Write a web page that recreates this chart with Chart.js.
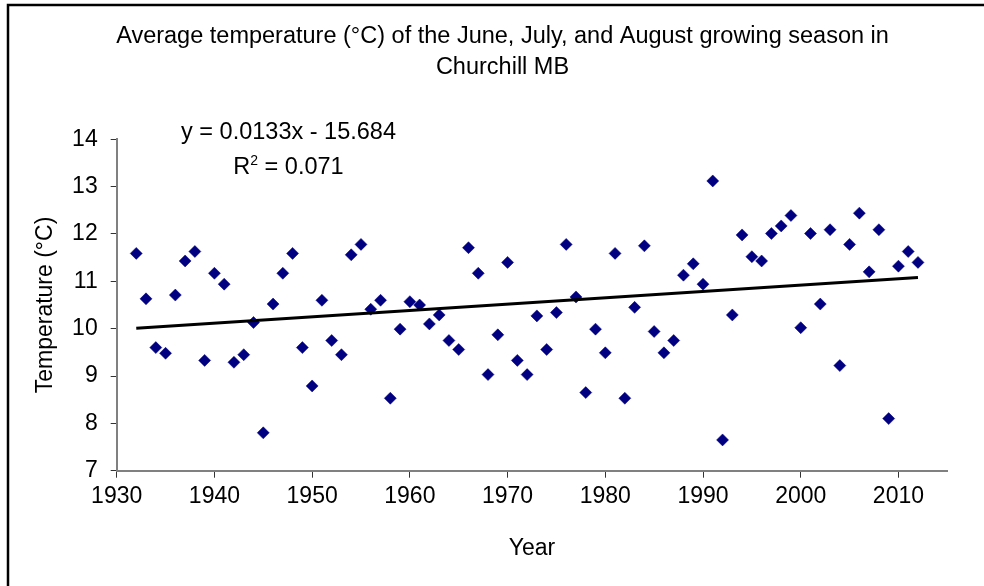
<!DOCTYPE html>
<html>
<head>
<meta charset="utf-8">
<script src="https://cdn.jsdelivr.net/npm/chart.js@4.4.0/dist/chart.umd.min.js"></script>
<style>
html,body{margin:0;padding:0;background:#ffffff;}
#wrap{position:relative;width:984px;height:586px;overflow:hidden;}
canvas{display:block;}
</style>
</head>
<body>
<div id="wrap"><canvas id="c" width="984" height="586"></canvas></div>
<script>
// ---- data ----
const years = [1932,1933,1934,1935,1936,1937,1938,1939,1940,1941,1942,1943,1944,1945,1946,1947,1948,1949,1950,1951,
  1952,1953,1954,1955,1956,1957,1958,1959,1960,1961,1962,1963,1964,1965,1966,1967,1968,1969,1970,1971,
  1972,1973,1974,1975,1976,1977,1978,1979,1980,1981,1982,1983,1984,1985,1986,1987,1988,1989,1990,1991,
  1992,1993,1994,1995,1996,1997,1998,1999,2000,2001,2002,2003,2004,2005,2006,2007,2008,2009,2010,2011,2012];
const temps = [11.59,10.63,9.60,9.48,10.71,11.43,11.63,9.33,11.17,10.94,9.29,9.45,10.13,7.80,10.52,11.17,11.59,9.60,8.79,10.60,
  9.75,9.45,11.56,11.78,10.41,10.60,8.53,9.99,10.57,10.50,10.10,10.29,9.75,9.56,11.71,11.17,9.03,9.87,11.40,9.33,
  9.03,10.27,9.56,10.34,11.78,10.67,8.65,9.99,9.49,11.59,8.53,10.45,11.75,9.94,9.49,9.75,11.13,11.37,10.94,13.12,
  7.65,10.29,11.98,11.52,11.43,12.01,12.17,12.39,10.02,12.01,10.52,12.09,9.22,11.78,12.44,11.20,12.09,8.10,11.32,11.63,11.40];
const trendYears = [1932, 2012];
const trendTemps = [10.01, 11.08];
const xTicks = [1930,1940,1950,1960,1970,1980,1990,2000,2010];
const yTicks = [7,8,9,10,11,12,13,14];
const titleLines = ['Average temperature (\u00B0C) of the June, July, and August growing season in', 'Churchill MB'];
const xTitle = 'Year';
const yTitle = 'Temperature (\u00B0C)';
const equationText = 'y = 0.0133x - 15.684';
const r2Label = 'R';
const r2Sup = '2';
const r2Value = ' = 0.071';

const FONT = "'Liberation Sans', Arial, sans-serif";

const decor = {
  id: 'decor',
  beforeDraw(chart) {
    const ctx = chart.ctx;
    ctx.save();
    ctx.fillStyle = '#ffffff';
    ctx.fillRect(0, 0, chart.width, chart.height);
    ctx.restore();
  },
  afterDraw(chart) {
    const ctx = chart.ctx;
    ctx.save();
    // outer frame
    ctx.strokeStyle = '#000000';
    ctx.lineWidth = 2.5;
    ctx.strokeRect(8, 5, 1000, 700);
    // trendline equation
    ctx.fillStyle = '#000000';
    ctx.textBaseline = 'middle';
    ctx.textAlign = 'center';
    ctx.font = "23.5px " + FONT;
    const cx = 288.5;
    ctx.fillText(equationText, cx, 132.5);
    // R^2 line
    ctx.textAlign = 'left';
    const wR = ctx.measureText(r2Label).width;
    const wV = ctx.measureText(r2Value).width;
    ctx.font = "14px " + FONT;
    const wS = ctx.measureText(r2Sup).width;
    const total = wR + wS + wV;
    let x0 = cx - total / 2;
    ctx.font = "23.5px " + FONT;
    ctx.textBaseline = 'alphabetic';
    const base = 174;
    ctx.fillText(r2Label, x0, base);
    ctx.font = "14px " + FONT;
    ctx.fillText(r2Sup, x0 + wR, base - 9);
    ctx.font = "23.5px " + FONT;
    ctx.fillText(r2Value, x0 + wR + wS, base);
    ctx.restore();
  }
};

new Chart(document.getElementById('c'), {
  type: 'scatter',
  data: {
    datasets: [
      {
        type: 'scatter',
        data: years.map((y, i) => ({x: y, y: temps[i]})),
        pointStyle: 'rectRot',
        pointRadius: 6,
        pointBackgroundColor: '#000080',
        pointBorderColor: '#000080',
        pointBorderWidth: 0.5,
        order: 2
      },
      {
        type: 'line',
        data: trendYears.map((y, i) => ({x: y, y: trendTemps[i]})),
        borderColor: '#000000',
        borderWidth: 3,
        pointRadius: 0,
        fill: false,
        order: 1
      }
    ]
  },
  options: {
    responsive: false,
    animation: false,
    events: [],
    layout: { padding: { left: 21, right: 0, top: 0, bottom: 0 } },
    plugins: {
      legend: { display: false },
      tooltip: { enabled: false },
      title: {
        display: true,
        text: titleLines,
        color: '#000000',
        font: { family: FONT, size: 23.5, weight: 'normal', lineHeight: 31/23.5 },
        padding: { top: 21.5, bottom: 55.8 }
      }
    },
    scales: {
      x: {
        type: 'linear',
        min: 1930,
        max: 2015,
        afterBuildTicks: (s) => { s.ticks = xTicks.map(v => ({value: v})); },
        afterFit: (s) => { s.height = 115.3; },
        ticks: {
          color: '#000000',
          font: { family: FONT, size: 23 },
          padding: 5,
          maxRotation: 0,
          callback: (v) => String(v)
        },
        grid: { display: true, drawOnChartArea: false, drawTicks: true, tickLength: 7, color: '#333333', lineWidth: 1 },
        border: { display: true, color: '#808080', width: 2 },
        title: { display: true, text: xTitle, color: '#000000', font: { family: FONT, size: 23 }, padding: { top: 0, bottom: 24 } }
      },
      y: {
        type: 'linear',
        position: 'left',
        min: 7,
        max: 14,
        afterBuildTicks: (s) => { s.ticks = yTicks.map(v => ({value: v})); },
        afterFit: (s) => { s.width = 95.7; },
        ticks: {
          color: '#000000',
          font: { family: FONT, size: 23 },
          padding: 13,
          callback: (v) => String(v)
        },
        grid: { display: true, drawOnChartArea: false, drawTicks: true, tickLength: 6, color: '#333333', lineWidth: 1 },
        border: { display: true, color: '#808080', width: 2 },
        title: { display: true, text: yTitle, color: '#000000', font: { family: FONT, size: 23 }, padding: { top: 11, bottom: 0 } }
      },
      yR: {
        type: 'linear',
        position: 'right',
        display: true,
        min: 7,
        max: 14,
        afterFit: (s) => { s.width = 36.7; },
        ticks: { display: false },
        grid: { display: false, drawTicks: false },
        border: { display: false }
      }
    }
  },
  plugins: [decor]
});
</script>
</body>
</html>
